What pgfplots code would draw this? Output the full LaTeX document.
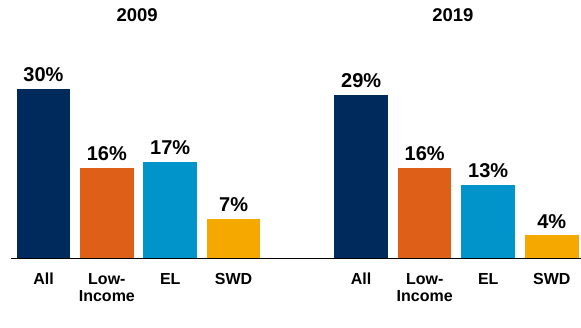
\documentclass[border=0pt]{standalone}
\usepackage{pgfplots}
\pgfplotsset{compat=1.18}
\usepackage{fontspec}
\setmainfont{Liberation Sans}
\definecolor{cNavy}{RGB}{0,42,92}
\definecolor{cOrange}{RGB}{221,95,24}
\definecolor{cBlue}{RGB}{0,148,202}
\definecolor{cYellow}{RGB}{245,168,0}
\pgfplotsset{
  grp/.style={
    scale only axis,
    height=225.2pt,
    ymin=0, ymax=40,
    /pgf/number format/assume math mode=true,
    axis x line=bottom,
    axis y line=none,
    x axis line style={-, black, line width=1pt},
    xtick={0,1,2,3},
    xticklabels={All,{Low-\\Income},EL,SWD},
    xtick style={draw=none},
    xticklabel style={align=center, anchor=north, inner sep=0pt, yshift=-10.8pt,
      font=\bfseries\fontsize{16}{17}\selectfont},
    ybar, bar width=53.5pt,
    bar shift=0pt,
    nodes near coords={\pgfmathprintnumber[assume math mode=true]{\pgfplotspointmeta}\%},
    nodes near coords style={font=\bfseries\fontsize{20}{20}\selectfont, anchor=south, inner sep=0pt, yshift=7pt},
    title style={font=\bfseries\fontsize{18.5}{18.5}\selectfont, anchor=center, inner sep=0pt},
    clip=false,
  }
}
\begin{document}
\begin{tikzpicture}
\useasboundingbox (0,0) rectangle (581pt,327pt);
\begin{axis}[grp, at={(11pt,69pt)}, anchor=south west, width=279pt,
  xmin=-0.513, xmax=3.89,
  title={2009}, title style={at={(0.452,1.052)}}]
\addplot[fill=cNavy, draw=none] coordinates {(0,30)};
\addplot[fill=cOrange, draw=none] coordinates {(1,16)};
\addplot[fill=cBlue, draw=none] coordinates {(2,17)};
\addplot[fill=cYellow, draw=none] coordinates {(3,7)};
\end{axis}
\begin{axis}[grp, at={(290pt,69pt)}, anchor=south west, width=291pt,
  xmin=-1.12, xmax=3.46,
  title={2019}, title style={at={(0.560,1.052)}}]
\addplot[fill=cNavy, draw=none] coordinates {(0,29)};
\addplot[fill=cOrange, draw=none] coordinates {(1,16)};
\addplot[fill=cBlue, draw=none] coordinates {(2,13)};
\addplot[fill=cYellow, draw=none] coordinates {(3,4)};
\end{axis}
\end{tikzpicture}
\end{document}
